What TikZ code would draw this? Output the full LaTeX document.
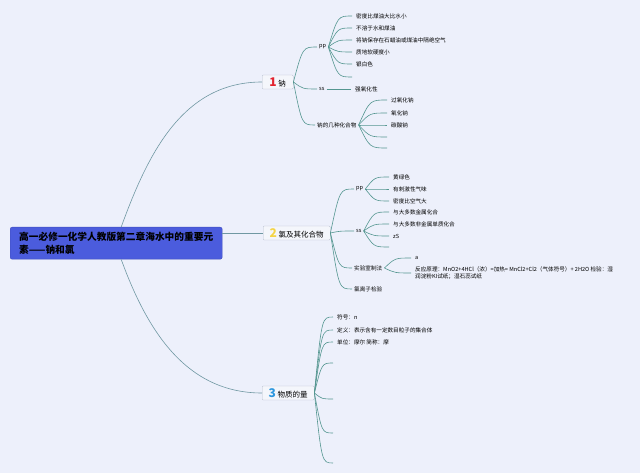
\documentclass[tikz,border=0pt]{standalone}
\usepackage{fontspec}
\setmainfont{Noto Sans CJK SC}
\usetikzlibrary{calc}
\definecolor{bgcol}{RGB}{237,240,251}
\definecolor{rootcol}{RGB}{75,92,221}
\definecolor{linkcol}{RGB}{84,150,144}
\definecolor{armcol}{RGB}{112,152,162}
\definecolor{boxcol}{RGB}{244,246,251}
\definecolor{boxline}{RGB}{182,190,206}
\definecolor{noone}{RGB}{226,36,48}
\definecolor{notwo}{RGB}{244,212,70}
\definecolor{nothree}{RGB}{44,150,222}
\tikzset{
  link/.style={to path={.. controls ($(\tikztostart |- \tikztotarget)!0.4!(\tikztotarget)$) .. (\tikztotarget) \tikztonodes}},
  arm/.style={draw=armcol,line width=0.6pt},
  fan/.style={draw=linkcol,line width=0.6pt},
  topic/.style={draw=boxline,fill=boxcol,rounded corners=1pt,anchor=west,minimum height=14pt,
    inner xsep=3pt,inner ysep=0pt,font=\fontsize{7.5}{8}\selectfont},
  sub/.style={anchor=west,inner xsep=2pt,inner ysep=1pt,font=\fontsize{5.6}{7}\selectfont},
  leaf/.style={sub,inner xsep=4pt},
}
\newcommand{\topicno}[2]{{\color{#1}\fontsize{12}{12}\selectfont\bfseries #2}}
\begin{document}
\begin{tikzpicture}[x=1pt,y=-1pt]
\fill[bgcol] (0,0) rectangle (640,473);

% main topic
\node[fill=rootcol,draw=rootcol!85!black,rounded corners=2pt,anchor=north west,
  minimum width=212pt,minimum height=32pt,inner xsep=6pt,align=left,
  font=\fontsize{9.7}{13}\selectfont\bfseries] (root) at (10,227)
  {高一必修一化学人教版第二章海水中的重要元\\素——钠和氯};

% branches
\node[topic,minimum width=31pt] (b1) at (262,82) {\topicno{noone}{1} 钠};
\node[topic,minimum width=67pt] (b2) at (263,233) {\topicno{notwo}{2} 氯及其化合物};
\node[topic,minimum width=52pt] (b3) at (262,393) {\topicno{nothree}{3} 物质的量};

\draw[arm] ([xshift=5pt]root.north) to[out=70,in=180] (b1.west);
\draw[arm] (root.east |- b2.west) -- (b2.west);
\draw[arm] ([xshift=5pt]root.south) to[out=-70,in=180] (b3.west);

% 1 sodium
\node[sub] (napp) at (317,47) {pp};
\node[sub] (nass) at (317,89) {ss};
\node[sub] (nacmp) at (315,125) {钠的几种化合物};
\foreach \n in {napp,nass,nacmp}
  \draw[fan] (b1.east) to[link] (\n.west);

\foreach \i/\yy/\txt in {1/16/密度比煤油大比水小, 2/28/不溶于水和煤油,
    3/40/将钠保存在石蜡油或煤油中隔绝空气, 4/52/质地软硬度小, 5/64/银白色, 6/77/}
  \node[leaf] (napp\i) at (352,\yy) {\txt};
\foreach \i in {1,...,6}
  \draw[fan] (napp.east) to[link] (napp\i.west);

\node[leaf] (naox) at (351,89) {强氧化性};
\draw[fan] (nass.east) -- (naox.west);

\foreach \i/\yy/\txt in {1/100/过氧化钠, 2/113/氧化钠, 3/125/碳酸钠, 4/137/, 5/148/}
  \node[leaf] (nacmp\i) at (387,\yy) {\txt};
\foreach \i in {1,...,5}
  \draw[fan] (nacmp.east) to[link] (nacmp\i.west);

% 2 chlorine
\node[sub] (clpp) at (354,189) {pp};
\node[sub] (clss) at (354,231) {ss};
\node[sub] (clprep) at (352,268) {实验室制法};
\node[sub] (cltest) at (352,289) {氯离子检验};
\foreach \n in {clpp,clss,clprep,cltest}
  \draw[fan] (b2.east) to[link] (\n.west);

\foreach \i/\yy/\txt in {1/177/黄绿色, 2/189/有刺激性气味, 3/201/密度比空气大}
  \node[leaf] (clpp\i) at (389,\yy) {\txt};
\foreach \i in {1,...,3}
  \draw[fan] (clpp.east) to[link] (clpp\i.west);

\foreach \i/\yy/\txt in {1/212/与大多数金属化合, 2/224/与大多数非金属单质化合, 3/236/zS, 4/247/}
  \node[leaf] (clss\i) at (389,\yy) {\txt};
\foreach \i in {1,...,4}
  \draw[fan] (clss.east) to[link] (clss\i.west);

\node[leaf] (clprep1) at (411,258) {a};
\node[leaf,align=left] (clprep2) at (411,273)
  {反应原理：MnO2+4HCl（浓）=加热= MnCl2+Cl2（气体符号）+ 2H2O 检验：湿\\润淀粉KI试纸；湿石蕊试纸};
\foreach \i in {1,2}
  \draw[fan] (clprep.east) to[link] (clprep\i.west);

% 3 amount of substance
\foreach \i/\yy/\txt in {1/317/符号：n, 2/330/定义：表示含有一定数目粒子的集合体, 3/342/单位：摩尔 简称：摩,
    4/363/, 5/399/, 6/433/, 7/463/}
  \node[leaf] (amt\i) at (333,\yy) {\txt};
\foreach \i in {1,...,7}
  \draw[fan] (b3.east) to[link] (amt\i.west);

\end{tikzpicture}
\end{document}
